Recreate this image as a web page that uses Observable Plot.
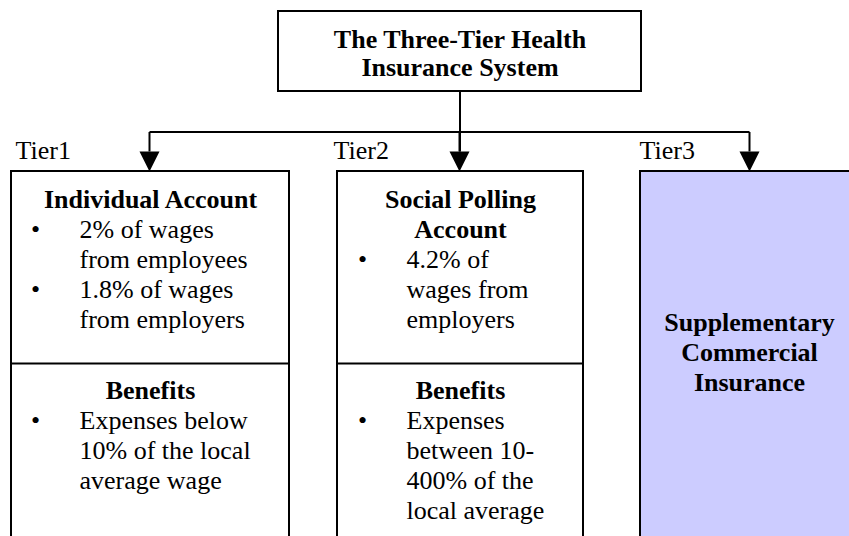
<!DOCTYPE html>
<html><head><meta charset="utf-8">
<script src="https://cdn.jsdelivr.net/npm/d3@7"></script>
<script src="https://cdn.jsdelivr.net/npm/@observablehq/plot@0.6"></script>
<style>body{margin:0;background:#fff}</style>
</head><body><div id="chart"></div>
<script>
// ---- content ----
const titleLines = ["The Three-Tier Health", "Insurance System"];
const tierLabels = ["Tier1", "Tier2", "Tier3"];
const accountHeaders = [["Individual Account"], ["Social Polling", "Account"], []];
const accountBullets = [
  [["2% of wages", "from employees"], ["1.8% of wages", "from employers"]],
  [["4.2% of", "wages from", "employers"]],
  []
];
const benefitHeaders = [["Benefits"], ["Benefits"], []];
const benefitBullets = [
  [["Expenses below", "10% of the local", "average wage"]],
  [["Expenses", "between 10-", "400% of the", "local average"]],
  []
];
const tier3Lines = ["Supplementary", "Commercial", "Insurance"];
const tierFills = ["#ffffff", "#ffffff", "#ccccff"];

// ---- layout ----
const W = 849, H = 536, FS = 26;
const topBox = {x1: 278, x2: 641, y1: 11, y2: 91};
const cols = [
  {x1: 11, x2: 289, arrow: 149, bullet: 35, text: 79, label: 15},
  {x1: 337, x2: 583, arrow: 459, bullet: 362, text: 406, label: 333},
  {x1: 640, x2: 860, arrow: 749, bullet: 0, text: 0, label: 639}
];
const boxTop = 171, boxBottom = 560, divider = 363, busY = 131.5, arrowBase = 151;
const lineH = 30, accountY = 207, benefitY = 398, tier3Y = 330, titleY = 47, labelY = 158;

// ---- build mark data ----
const boxes = [{...topBox, fill: "#ffffff"}];
cols.forEach((c, i) => boxes.push({x1: c.x1, x2: c.x2, y1: boxTop, y2: boxBottom, fill: tierFills[i]}));

const links = [
  {x1: (topBox.x1 + topBox.x2) / 2, y1: topBox.y2, x2: (topBox.x1 + topBox.x2) / 2, y2: arrowBase},
  {x1: cols[0].arrow, y1: busY, x2: cols[2].arrow, y2: busY},
  ...cols.map(c => ({x1: c.arrow, y1: busY, x2: c.arrow, y2: arrowBase})),
  ...cols.slice(0, 2).map(c => ({x1: c.x1, y1: divider, x2: c.x2, y2: divider}))
];
const arrows = cols.map(c => ({x: c.arrow, y: boxTop}));

const texts = [];
titleLines.forEach((t, k) => texts.push({x: (topBox.x1 + topBox.x2) / 2, y: titleY + k * 28.5, text: t, anchor: "middle", bold: true}));
tierLabels.forEach((t, i) => texts.push({x: cols[i].label, y: labelY, text: t, anchor: "start", bold: false}));

function section(i, headers, bullets, y0) {
  const c = cols[i], cx = (c.x1 + c.x2) / 2;
  let y = y0;
  headers.forEach(h => { texts.push({x: cx, y, text: h, anchor: "middle", bold: true}); y += lineH; });
  bullets.forEach(b => {
    texts.push({x: c.bullet, y, text: "\u2022", anchor: "middle", bold: false});
    b.forEach(l => { texts.push({x: c.text, y, text: l, anchor: "start", bold: false}); y += lineH; });
  });
}
cols.forEach((c, i) => {
  section(i, accountHeaders[i], accountBullets[i], accountY);
  section(i, benefitHeaders[i], benefitBullets[i], benefitY);
});
tier3Lines.forEach((t, k) => texts.push({x: cols[2].arrow, y: tier3Y + k * lineH, text: t, anchor: "middle", bold: true}));

const downTriangle = {
  draw(ctx) { ctx.moveTo(-10, -20); ctx.lineTo(10, -20); ctx.lineTo(0, 0); ctx.closePath(); }
};

// one text mark per line (baseline y converted to Plot's default middle line anchor)
const textMarks = texts.map(d => {
  const opts = {x: d.x, y: d.y - 0.32 * FS, text: () => d.text, textAnchor: d.anchor, fontFamily: "Liberation Serif", fontSize: FS};
  if (d.bold) opts.fontWeight = "bold";
  return Plot.text([d], opts);
});

const chart = Plot.plot({
  width: W, height: H, margin: 0,
  x: {domain: [0, W], range: [0, W], axis: null},
  y: {domain: [0, H], range: [0, H], axis: null},
  marks: [
    Plot.rect(boxes, {x1: "x1", x2: "x2", y1: "y1", y2: "y2", fill: "fill", stroke: "#000", strokeWidth: 2, clip: true}),
    Plot.link(links, {x1: "x1", y1: "y1", x2: "x2", y2: "y2", stroke: "#000", strokeWidth: 2}),
    Plot.dot(arrows, {x: "x", y: "y", symbol: downTriangle, fill: "#000", stroke: "none", r: 10}),
    ...textMarks
  ]
});
document.getElementById("chart").append(chart);
</script>
</body></html>
